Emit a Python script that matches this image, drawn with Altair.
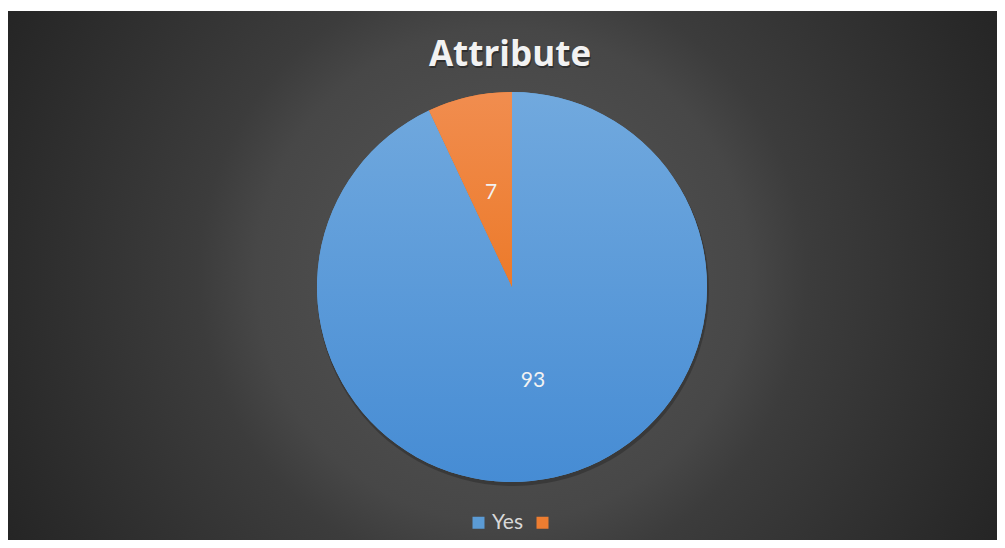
import altair as alt
import pandas as pd

# ---- data ----
categories = ["Yes", " "]
values = [93, 7]
slice_order = [0, 1]
slice_colors = ["#5b9bd5", "#ed7d31"]
title_text = ["Attribute"]

# ---- layout / style ----
W, H = 989, 529
CX, CY = 504, 276
R = 195

df = pd.DataFrame({"category": categories, "value": values, "ord": slice_order})
title_df = pd.DataFrame({"title": title_text})

bg_grad = {
    "gradient": "radial",
    "x1": 0.5, "y1": 0.5, "r1": 0,
    "x2": 0.5, "y2": 0.5, "r2": 0.58,
    "stops": [
        {"offset": 0.0, "color": "#575757"},
        {"offset": 0.43, "color": "#474747"},
        {"offset": 0.53, "color": "#3c3c3c"},
        {"offset": 0.88, "color": "#2a2a2a"},
        {"offset": 1.0, "color": "#242424"},
    ],
}
blue_grad = {
    "gradient": "linear", "x1": 0, "y1": 0, "x2": 0, "y2": 1,
    "stops": [{"offset": 0, "color": "#71a9de"}, {"offset": 1, "color": "#468cd4"}],
}
orange_grad = {
    "gradient": "linear", "x1": 0, "y1": 0, "x2": 0, "y2": 1,
    "stops": [{"offset": 0, "color": "#f18d4f"}, {"offset": 1, "color": "#ec7a2a"}],
}

background = alt.Chart(title_df).mark_rect(fill=bg_grad).encode(
    x=alt.value(0), x2=alt.value(W), y=alt.value(0), y2=alt.value(H)
)

base = alt.Chart(df).encode(
    theta=alt.Theta("value:Q", stack=True),
    order=alt.Order("ord:Q"),
)

shadow = base.mark_arc(outerRadius=R + 1, fill="#000000", opacity=0.22).encode(
    x=alt.value(CX + 1), y=alt.value(CY + 3)
)

arcs = base.mark_arc(outerRadius=R).encode(
    x=alt.value(CX), y=alt.value(CY),
    color=alt.Color(
        "category:N",
        sort=categories,
        scale=alt.Scale(domain=categories, range=slice_colors),
        legend=alt.Legend(
            title=None,
            orient="none",
            legendX=460,
            legendY=501,
            direction="horizontal",
            symbolType="square",
            symbolSize=144,
            symbolStrokeWidth=0,
            symbolOpacity=1,
            labelFont="Lato",
            labelFontSize=21,
            labelColor="#d9d9d9",
            labelOffset=3,
            columnPadding=9,
            padding=0,
        ),
    ),
)

arcs_grad = base.mark_arc(outerRadius=R).encode(
    x=alt.value(CX), y=alt.value(CY),
    fill=alt.condition(alt.datum.category == "Yes", alt.value(blue_grad), alt.value(orange_grad)),
)

labels = base.mark_text(radius=96, font="Lato", fontSize=21, color="#f2f2f2").encode(
    x=alt.value(CX), y=alt.value(CY),
    text=alt.Text("value:Q"),
    detail="category:N",
)

title_shadow = alt.Chart(title_df).mark_text(
    font="Open Sans", fontSize=35, fontWeight="bold", color="#000000", opacity=0.35,
    baseline="middle", align="center"
).encode(x=alt.value(CX - 1), y=alt.value(46), text="title:N")

title = alt.Chart(title_df).mark_text(
    font="Open Sans", fontSize=35, fontWeight="bold", color="#f2f2f2",
    baseline="middle", align="center"
).encode(x=alt.value(CX - 2), y=alt.value(44), text="title:N")

chart = alt.layer(background, shadow, arcs, arcs_grad, labels, title_shadow, title).properties(
    width=W,
    height=H,
    padding={"left": 0, "top": 3, "right": 0, "bottom": 0},
    background="white",
).configure_view(strokeWidth=0)

chart.save("out.html", embed_options={"renderer": "svg", "actions": False})
